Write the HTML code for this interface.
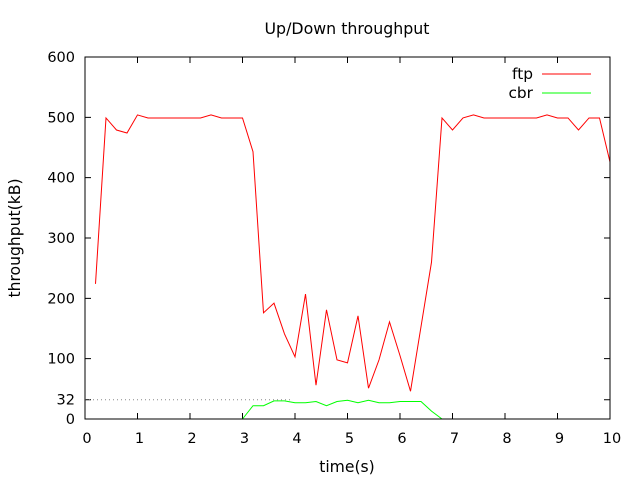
<!DOCTYPE html>
<html><head><meta charset="utf-8"><style>
html,body{margin:0;padding:0;background:#fff;}
svg{display:block;font-family:"DejaVu Sans","Liberation Sans",sans-serif;}
</style></head><body>
<svg id="chart" width="640" height="480" viewBox="0 0 640 480">
<text x="347" y="34" font-size="15.8" text-anchor="middle">Up/Down throughput</text>
<text x="347" y="472" font-size="15.6" text-anchor="middle">time(s)</text>
<text transform="translate(20,238) rotate(-90)" font-size="15.6" text-anchor="middle">throughput(kB)</text>
<g id="axes"></g>
<g id="series"></g>
<rect x="85" y="57" width="525" height="362" fill="none" stroke="#000" stroke-width="1"/>
<g>
<text x="533" y="79" font-size="15.4" text-anchor="end">ftp</text>
<line x1="542" y1="74" x2="591" y2="74" stroke="#ff0000"/>
<text x="533" y="98" font-size="15.4" text-anchor="end">cbr</text>
<line x1="542" y1="93" x2="591" y2="93" stroke="#00ff00"/>
</g>
</svg>
<script>
const xTicks=[0,1,2,3,4,5,6,7,8,9,10];
const yTicks=[0,100,200,300,400,500,600];
const ftpTime=[0.2,0.4,0.6,0.8,1.0,1.2,1.4,1.6,1.8,2.0,2.2,2.4,2.6,2.8,3.0,3.2,3.4,3.6,3.8,4.0,4.2,4.4,4.6,4.8,5.0,5.2,5.4,5.6,5.8,6.0,6.2,6.4,6.6,6.8,7.0,7.2,7.4,7.6,7.8,8.0,8.2,8.4,8.6,8.8,9.0,9.2,9.4,9.6,9.8,10.0];
const ftpValues=[224,499,479,474,504,499,499,499,499,499,499,504,499,499,499,443,176,192,141,103,207,56,181,98,93,171,51,98,161,105,46,153,260,499,479,499,504,499,499,499,499,499,499,504,499,499,479,499,499,426];
const cbrTime=[3.0,3.2,3.4,3.6,3.8,4.0,4.2,4.4,4.6,4.8,5.0,5.2,5.4,5.6,5.8,6.0,6.2,6.4,6.6,6.8];
const cbrValues=[0,22,22,30,30,27,27,29,22,29,31,27,31,27,27,29,29,29,13,0];
const refValue=32, refEnd=3.96;
const X=t=>85+t*52.5, Y=v=>419-v*0.60333;
const NS="http://www.w3.org/2000/svg";
const axes=document.getElementById('axes'), ser=document.getElementById('series');
function mk(tag,attrs,parent){const e=document.createElementNS(NS,tag);for(const k in attrs)e.setAttribute(k,attrs[k]);parent.appendChild(e);return e;}
xTicks.forEach(t=>{
 const l=mk('path',{d:`M${X(t)},419v-6M${X(t)},57v6`,stroke:'#000',fill:'none'},axes);
 
 
 const tx=mk('text',{x:X(t)+2,y:443,'font-size':14.5,'text-anchor':'middle'},axes);tx.textContent=t;
 
 
});
yTicks.concat([refValue]).forEach(v=>{
 const l=mk('path',{d:`M85,${Y(v)}h6M610,${Y(v)}h-6`,stroke:'#000',fill:'none'},axes);
 
 
 const tx=mk('text',{x:75,y:Y(v)+5,'font-size':14.5,'text-anchor':'end'},axes);tx.textContent=v;
 
 
});
const ref=mk('line',{x1:X(0),x2:X(refEnd),y1:Y(refValue),y2:Y(refValue),stroke:'#888','stroke-dasharray':'1,3'},ser);


const f=mk('polyline',{points:ftpTime.map((t,i)=>X(t)+','+Y(ftpValues[i])).join(' '),fill:'none',stroke:'#ff0000','stroke-width':1},ser);


const c=mk('polyline',{points:cbrTime.map((t,i)=>X(t)+','+Y(cbrValues[i])).join(' '),fill:'none',stroke:'#00ff00','stroke-width':1},ser);


</script>
</body></html>
